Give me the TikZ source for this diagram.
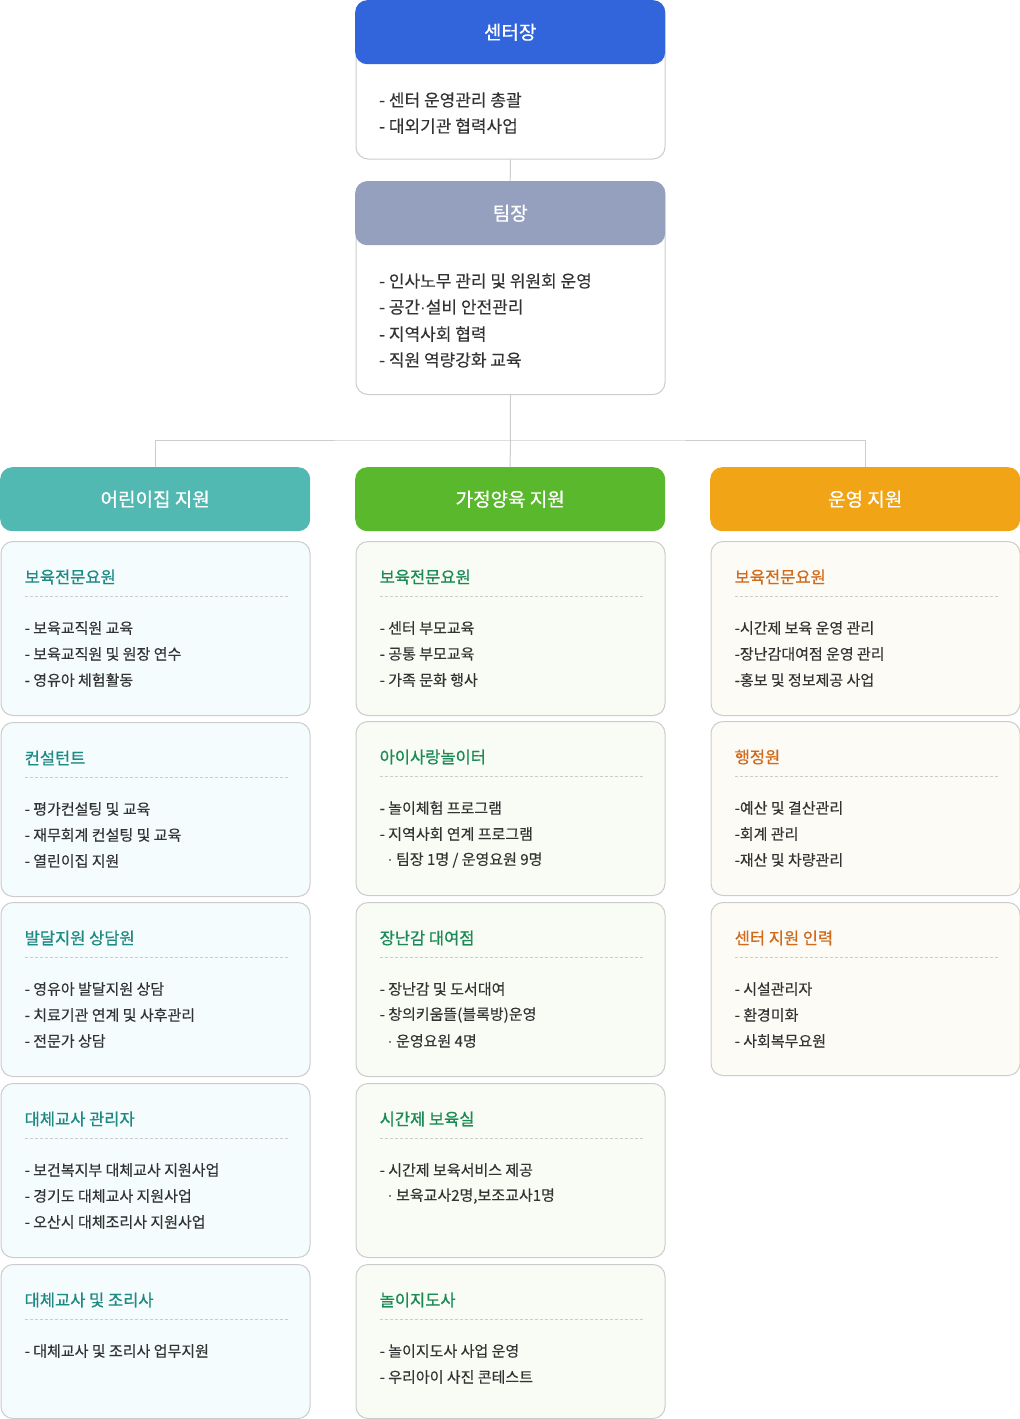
\documentclass[tikz,border=0pt]{standalone}
\usepackage{fontspec}
\setmainfont{Noto Sans CJK KR}
\newfontfamily\medfont{Noto Sans CJK KR}[FakeBold=0.7]
\newfontfamily\itemfont{Noto Sans CJK KR}[FakeBold=0.25]
\newfontfamily\dotfont{Liberation Sans}
\newcommand\mdot{{\dotfont ·}}
\definecolor{cblue}{HTML}{3265DB}
\definecolor{cteam}{HTML}{94A0BD}
\definecolor{cteal}{HTML}{52B9B2}
\definecolor{cgreen}{HTML}{5AB82C}
\definecolor{corange}{HTML}{F0A416}
\definecolor{bgL}{HTML}{F4FCFD}
\definecolor{bgM}{HTML}{F8FCF5}
\definecolor{bgR}{HTML}{FDFBF5}
\definecolor{tL}{HTML}{1F8A84}
\definecolor{tM}{HTML}{1B8A55}
\definecolor{tR}{HTML}{D06A1C}
\definecolor{bord}{HTML}{CCCCCC}
\definecolor{txt}{HTML}{333333}
\tikzset{
  boxbase/.style={rectangle, anchor=north west, minimum width=310pt, inner sep=0pt, rounded corners=12pt},
  bodybox/.style={boxbase, draw=bord, line width=1pt, fill=white, minimum width=309pt},
  hdbox/.style={boxbase, minimum height=64pt, text=white, font=\medfont\fontsize{19}{19}\selectfont},
  cardbase/.style={boxbase, draw=bord, line width=1pt, minimum width=309pt},
  cardL/.style={cardbase, fill=bgL},
  cardM/.style={cardbase, fill=bgM},
  cardR/.style={cardbase, fill=bgR},
  ctitleL/.style={anchor=west, inner sep=0pt, text=tL, font=\medfont\fontsize{16.5}{16.5}\selectfont},
  ctitleM/.style={anchor=west, inner sep=0pt, text=tM, font=\medfont\fontsize{16.5}{16.5}\selectfont},
  ctitleR/.style={anchor=west, inner sep=0pt, text=tR, font=\medfont\fontsize{16.5}{16.5}\selectfont},
  citem/.style={anchor=west, inner sep=0pt, text=txt, font=\itemfont\fontsize{15}{15}\selectfont},
  bitem/.style={anchor=west, inner sep=0pt, text=txt, font=\itemfont\fontsize{17}{17}\selectfont},
  dashline/.style={draw=bord, line width=0.8pt, dash pattern=on 3pt off 2pt},
  conn/.style={draw=bord, line width=1pt},
}
\newcommand\hd[1]{\raisebox{-2pt}{#1}}
\newcommand\orgcard[7]{%
  \node[card#5, minimum height=#4pt] (#1) at (#2,#3) {};
  \node[ctitle#5] (#1t) at (#2+24,#3+36) {#6};
  \draw[dashline] (#2+24,#3+55) -- (#2+288,#3+55);
  \foreach \t [count=\i] in {#7} {\node[citem] (#1i\i) at (#2+24,#3+61+26*\i) {\t};}
}
\begin{document}
\begin{tikzpicture}[x=1pt,y=-1pt]
\useasboundingbox (0,0) rectangle (1020,1419);
\coordinate (bus) at (510,440);
% top box
\node[bodybox, minimum height=158pt] (topbox) at (355.5,0.5) {};
\node[hdbox, fill=cblue] (tophd) at (355,0) {\hd{센터장}};
\node[bitem] (top1) at (379,100) {- 센터 운영관리 총괄};
\node[bitem] (top2) at (379,126) {- 대외기관 협력사업};
% team box
\node[bodybox, minimum height=213pt] (teambox) at (355.5,181) {};
\node[hdbox, fill=cteam] (teamhd) at (355,181) {\hd{팀장}};
\node[bitem] (tm1) at (379,281) {- 인사노무 관리 및 위원회 운영};
\node[bitem] (tm2) at (379,307) {- 공간\mdot 설비 안전관리};
\node[bitem] (tm3) at (379,334) {- 지역사회 협력};
\node[bitem] (tm4) at (379,360) {- 직원 역량강화 교육};
% column headers
\node[hdbox, fill=cteal] (h1) at (0,467) {\hd{어린이집 지원}};
\node[hdbox, fill=cgreen] (h2) at (355,467) {\hd{가정양육 지원}};
\node[hdbox, fill=corange] (h3) at (710,467) {\hd{운영 지원}};
\draw[conn] (topbox.south) -- (teamhd.north);
\draw[conn] (teambox.south) -- (h2.north);
\draw[conn] (h1.north) |- (bus) -| (h3.north);
% left column
\orgcard{L1}{0.5}{541}{174}{L}{보육전문요원}{{- 보육교직원 교육},{- 보육교직원 및 원장 연수},{- 영유아 체험활동}}
\orgcard{L2}{0.5}{722}{174}{L}{컨설턴트}{{- 평가컨설팅 및 교육},{- 재무회계 컨설팅 및 교육},{- 열린이집 지원}}
\orgcard{L3}{0.5}{902}{174}{L}{발달지원 상담원}{{- 영유아 발달지원 상담},{- 치료기관 연계 및 사후관리},{- 전문가 상담}}
\orgcard{L4}{0.5}{1083}{174}{L}{대체교사 관리자}{{- 보건복지부 대체교사 지원사업},{- 경기도 대체교사 지원사업},{- 오산시 대체조리사 지원사업}}
\orgcard{L5}{0.5}{1264}{154}{L}{대체교사 및 조리사}{{- 대체교사 및 조리사 업무지원}}
% middle column
\orgcard{M1}{355.5}{541}{174}{M}{보육전문요원}{{- 센터 부모교육},{- 공통 부모교육},{- 가족 문화 행사}}
\orgcard{M2}{355.5}{721}{174}{M}{아이사랑놀이터}{{- 놀이체험 프로그램},{- 지역사회 연계 프로그램},{\hspace*{8pt}\mdot\ 팀장 1명 / 운영요원 9명}}
\orgcard{M3}{355.5}{902}{174}{M}{장난감 대여점}{{- 장난감 및 도서대여},{- 창의키움뜰(블록방)운영},{\hspace*{8pt}\mdot\ 운영요원 4명}}
\orgcard{M4}{355.5}{1083}{174}{M}{시간제 보육실}{{- 시간제 보육서비스 제공},{\hspace*{8pt}\mdot\ 보육교사2명,보조교사1명}}
\orgcard{M5}{355.5}{1264}{154}{M}{놀이지도사}{{- 놀이지도사 사업 운영},{- 우리아이 사진 콘테스트}}
% right column
\orgcard{R1}{710.5}{541}{174}{R}{보육전문요원}{{-시간제 보육 운영 관리},{-장난감대여점 운영 관리},{-홍보 및 정보제공 사업}}
\orgcard{R2}{710.5}{721}{174}{R}{행정원}{{-예산 및 결산관리},{-회계 관리},{-재산 및 차량관리}}
\orgcard{R3}{710.5}{902}{173}{R}{센터 지원 인력}{{- 시설관리자},{- 환경미화},{- 사회복무요원}}
\end{tikzpicture}
\end{document}
